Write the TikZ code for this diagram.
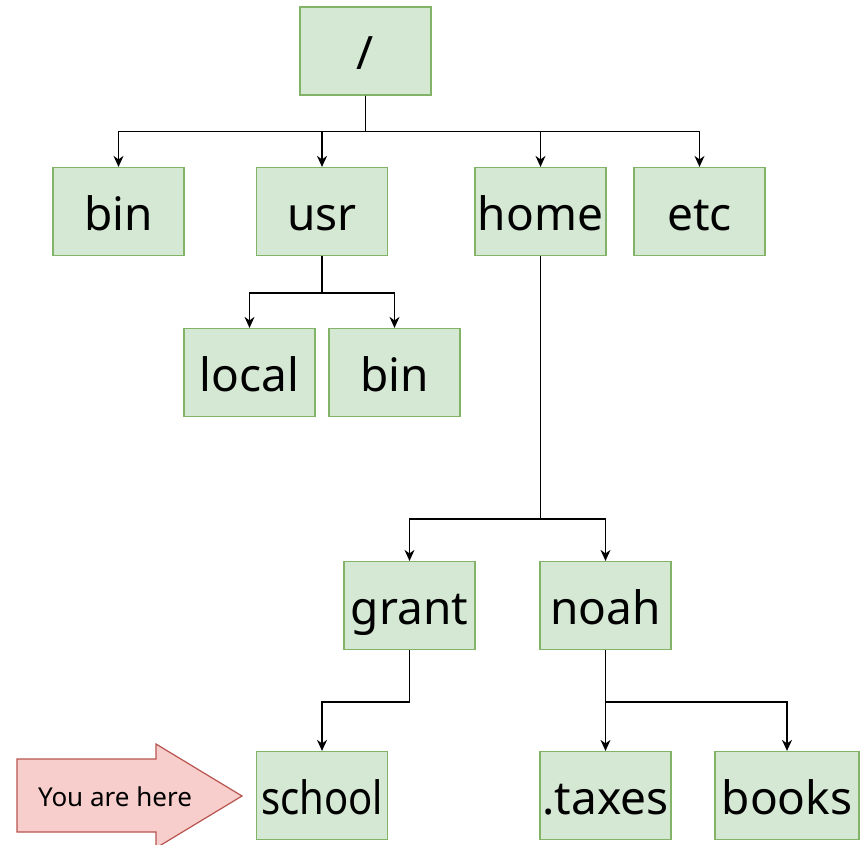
\documentclass[tikz,border=0pt]{standalone}
\usepackage{fontspec}
\setmainfont{Noto Sans}
\usetikzlibrary{arrows.meta}
\definecolor{boxfill}{HTML}{D5E8D4}
\definecolor{boxdraw}{HTML}{82B366}
\definecolor{arrfill}{HTML}{F8CECC}
\definecolor{arrdraw}{HTML}{B85450}
\newcommand\dn[1]{\makebox[0pt]{#1}}
\tikzset{
  dirbox/.style={draw=boxdraw, fill=boxfill, line width=1.2pt, inner sep=0pt,
    minimum width=131pt, minimum height=88pt, text height=44pt, text depth=7pt,
    font=\fontsize{46}{50}\selectfont},
  conn/.style={line width=1.3pt, -{Stealth[length=11pt,width=10pt,inset=3.5pt]}},
}
\begin{document}
\begin{tikzpicture}[x=1pt,y=-1pt]
\useasboundingbox (0,0) rectangle (860,844);
\clip (0,0) rectangle (860,844);
\node[dirbox] (root) at (365.5,51) {\dn{/}};
\node[dirbox] (bin) at (118.5,211.5) {\dn{bin}};
\node[dirbox] (usr) at (322,211.5) {\dn{usr}};
\node[dirbox] (home) at (540.5,211.5) {\dn{home}};
\node[dirbox] (etc) at (699.5,211.5) {\dn{etc}};
\node[dirbox] (local) at (249.5,372.5) {\dn{local}};
\node[dirbox] (ubin) at (394.5,372.5) {\dn{bin}};
\node[dirbox] (grant) at (409.5,605.5) {\dn{grant}};
\node[dirbox] (noah) at (605.5,605.5) {\dn{noah}};
\node[dirbox] (school) at (322,795.5) {\dn{\scalebox{0.87}[1]{school}}};
\node[dirbox] (taxes) at (605.5,795.5) {\dn{.taxes}};
\node[dirbox, minimum width=144pt] (books) at (787,795.5) {\dn{books}};

\draw[conn] (root.south) -- ++(0,36) -| (bin.north);
\draw[conn] (root.south) -- ++(0,36) -| (usr.north);
\draw[conn] (root.south) -- ++(0,36) -| (home.north);
\draw[conn] (root.south) -- ++(0,36) -| (etc.north);
\draw[conn] (usr.south) -- ++(0,37) -| (local.north);
\draw[conn] (usr.south) -- ++(0,37) -| (ubin.north);
\draw[conn] (home.south) -- ++(0,263) -| (grant.north);
\draw[conn] (home.south) -- ++(0,263) -| (noah.north);
\draw[conn] (grant.south) -- ++(0,52) -| (school.north);
\draw[conn] (noah.south) -- ++(0,52) -| (taxes.north);
\draw[conn] (noah.south) -- ++(0,52) -| (books.north);

\draw[draw=arrdraw, fill=arrfill, line width=1.2pt, line join=miter]
  (17,759) -- (156,759) -- (156,744) -- (242,796) -- (156,848) -- (156,832) -- (17,832) -- cycle;
\node[font=\fontsize{26}{30}\selectfont, inner sep=0pt] (here) at (115,797) {You are here};
\end{tikzpicture}
\end{document}
